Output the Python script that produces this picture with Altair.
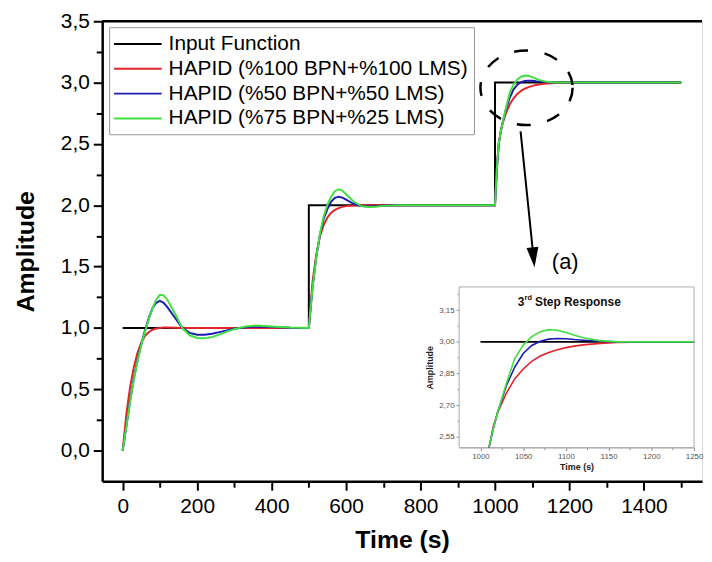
import altair as alt
import pandas as pd

# ---------------- data ----------------
series_names = ["Input Function", "HAPID (%100 BPN+%100 LMS)",
                "HAPID (%50 BPN+%50 LMS)", "HAPID (%75 BPN+%25 LMS)"]
series_colors = ["#000000", "#e3242b", "#1b1bb0", "#3fe03f"]
series_widths = [2.0, 2.0, 2.5, 3.0]

input_t = [0, 500, 500, 1000, 1000, 1250, 1500]
input_v = [1, 1, 2, 2, 3, 3, 3]

time = [0, 10, 20, 30, 40, 50, 60, 70, 80, 90, 100, 110, 120, 140, 160, 180, 200,
        220, 240, 260, 280, 300, 330, 360, 400, 450, 500,
        510, 520, 530, 540, 550, 560, 570, 580, 590, 600, 620, 640, 660, 680, 700,
        740, 800, 900, 1000,
        1005, 1010, 1015, 1020, 1030, 1040, 1050, 1060, 1070, 1080, 1090, 1100,
        1110, 1120, 1140, 1160, 1180, 1200, 1250, 1300, 1400, 1500]

red = [0, 0.3, 0.52, 0.68, 0.8, 0.88, 0.935, 0.965, 0.985, 0.995, 1.0, 1.003, 1.003,
       1.002, 1.0, 1.0, 1.0, 1.0, 1.0, 1.0, 1.0, 1.0, 1.0, 1.0, 1.0, 1.0, 1.0,
       1.38, 1.6, 1.75, 1.84, 1.9, 1.94, 1.962, 1.977, 1.987, 1.993, 1.998, 2.0, 2.0,
       2.0, 2.0, 2.0, 2.0, 2.0, 2.0,
       2.3, 2.5, 2.6, 2.665, 2.755, 2.825, 2.872, 2.908, 2.933, 2.95, 2.963, 2.973,
       2.98, 2.986, 2.993, 2.997, 2.999, 3.0, 3.0, 3.0, 3.0, 3.0]

blue = [0, 0.2, 0.41, 0.59, 0.74, 0.87, 0.98, 1.08, 1.16, 1.205, 1.22, 1.205, 1.17,
        1.085, 1.0, 0.96, 0.945, 0.945, 0.953, 0.966, 0.98, 0.993, 1.006, 1.012, 1.008,
        1.002, 1.0,
        1.33, 1.58, 1.76, 1.89, 1.97, 2.03, 2.06, 2.07, 2.062, 2.045, 2.012, 1.994, 1.99,
        1.993, 1.997, 2.0, 2.0, 2.0, 2.0,
        2.3, 2.5, 2.59, 2.665, 2.79, 2.88, 2.945, 2.983, 3.003, 3.013, 3.016, 3.015,
        3.011, 3.008, 3.003, 3.0, 3.0, 3.0, 3.0, 3.0, 3.0, 3.0]

green = [0, 0.2, 0.4, 0.58, 0.73, 0.86, 0.97, 1.07, 1.16, 1.23, 1.27, 1.265, 1.23,
         1.12, 1.0, 0.94, 0.918, 0.915, 0.925, 0.945, 0.97, 0.99, 1.012, 1.02, 1.012,
         1.003, 1.0,
         1.33, 1.58, 1.77, 1.91, 2.005, 2.07, 2.115, 2.13, 2.12, 2.09, 2.03, 1.995, 1.985,
         1.988, 1.995, 2.0, 2.0, 2.0, 2.0,
         2.3, 2.5, 2.59, 2.665, 2.8, 2.92, 2.985, 3.025, 3.048, 3.058, 3.055, 3.045,
         3.032, 3.02, 3.006, 3.0, 3.0, 3.0, 3.0, 3.0, 3.0, 3.0]

assert len(time) == len(red) == len(blue) == len(green)

rows = []
for i, (t, v) in enumerate(zip(input_t, input_v)):
    rows.append({"series": series_names[0], "t": t, "v": v, "idx": i})
for name, vals in zip(series_names[1:], [red, blue, green]):
    for i, (t, v) in enumerate(zip(time, vals)):
        rows.append({"series": name, "t": t, "v": v, "idx": i})
df = pd.DataFrame(rows)

# ---------------- layout constants ----------------
W, H = 605, 464
FONT = "Liberation Sans"

x_domain = [-55, 1556]
y_domain = [-0.25, 3.5]
inset_x_domain = [975, 1250]
inset_y_domain = [2.5, 3.26]
inset_x_range = [360, 597]
inset_y_range = [430, 268]

xs = alt.Scale(domain=x_domain, nice=False, zero=False)
ys = alt.Scale(domain=y_domain, nice=False, zero=False)
ixs = alt.Scale(domain=inset_x_domain, range=inset_x_range, nice=False, zero=False)
iys = alt.Scale(domain=inset_y_domain, range=inset_y_range, nice=False, zero=False)

x_axis = alt.Axis(
    values=list(range(0, 1600, 100)),
    labelExpr="datum.value % 200 == 0 ? format(datum.value, 'd') : ''",
    tickSize={"condition": {"test": "datum.value % 200 == 0", "value": 9}, "value": 6},
    tickColor="black", tickWidth=2, domainColor="black", domainWidth=2.5,
    labelFontSize=21, labelColor="black", labelPadding=5, labelFlush=False,
    titleFontSize=25, titleFontWeight="bold", titleColor="black", titlePadding=12,
    grid=False, orient="bottom",
)
y_axis = alt.Axis(
    values=[0, 0.25, 0.5, 0.75, 1.0, 1.25, 1.5, 1.75, 2.0, 2.25, 2.5, 2.75, 3.0, 3.25, 3.5],
    labelExpr="(abs(datum.value*2 - round(datum.value*2)) < 0.001) ? replace(format(datum.value, '.1f'), '.', ',') : ''",
    tickSize={"condition": {"test": "abs(datum.value*2 - round(datum.value*2)) < 0.001", "value": 9}, "value": 6},
    tickColor="black", tickWidth=2, domainColor="black", domainWidth=2.5,
    labelFontSize=21, labelColor="black", labelPadding=4, labelFlush=False,
    titleFontSize=25, titleFontWeight="bold", titleColor="black", titlePadding=22,
    grid=False, orient="left",
)
ix_axis = alt.Axis(
    values=list(range(1000, 1251, 25)),
    labelExpr="datum.value % 50 == 0 ? format(datum.value, 'd') : ''",
    tickSize={"condition": {"test": "datum.value % 50 == 0", "value": 3}, "value": 2},
    tickColor="#888", domainColor="#aaa", labelFontSize=8, labelColor="#555",
    labelPadding=2, labelFlush=False, titleFontSize=9, titleFontWeight="bold",
    titleColor="#222", titlePadding=2, grid=False, orient="bottom", offset=-(H - 430),
)
iy_axis = alt.Axis(
    values=[2.55, 2.625, 2.7, 2.775, 2.85, 2.925, 3.0, 3.075, 3.15, 3.225],
    labelExpr="(abs((datum.value-2.55)/0.15 - round((datum.value-2.55)/0.15)) < 0.01) ? replace(format(datum.value, '.2f'), '.', ',') : ''",
    tickSize={"condition": {"test": "abs((datum.value-2.55)/0.15 - round((datum.value-2.55)/0.15)) < 0.01", "value": 3}, "value": 2},
    tickColor="#888", domainColor="#aaa", labelFontSize=8, labelColor="#555",
    labelPadding=2, labelFlush=False, titleFontSize=9, titleFontWeight="bold",
    titleColor="#222", titlePadding=4, grid=False, orient="left", offset=-360,
)


def mx(field="t"):
    return alt.X(f"{field}:Q", scale=xs, axis=x_axis, title="Time (s)")


def my(field="v"):
    return alt.Y(f"{field}:Q", scale=ys, axis=y_axis, title="Amplitude")


def ix(field="t"):
    return alt.X(f"{field}:Q", scale=ixs, axis=ix_axis, title="Time (s)")


def iy(field="v"):
    return alt.Y(f"{field}:Q", scale=iys, axis=iy_axis, title="Amplitude")


legend = alt.Legend(
    orient="none", legendX=7, legendY=6, title=None,
    labelFontSize=21, labelFont=FONT, labelColor="black", labelLimit=500,
    symbolType="M -2.4 0 L 2.4 0", symbolSize=400, symbolStrokeWidth=2.5,
    symbolOffset=12, labelOffset=20, padding=6, rowPadding=4,
    strokeColor="#999", fillColor="white",
)

# ---------------- main plot ----------------
top_rule = alt.Chart(pd.DataFrame({"k": [0]})).mark_rule(
    color="black", strokeWidth=2.5
).encode(x=alt.value(0), x2=alt.value(W), y=alt.value(0))

main_lines = alt.Chart(df).mark_line(clip=True).encode(
    x=mx(), y=my(),
    color=alt.Color("series:N", scale=alt.Scale(domain=series_names, range=series_colors),
                    legend=legend, sort=series_names),
    strokeWidth=alt.StrokeWidth("series:N", scale=alt.Scale(domain=series_names, range=series_widths),
                                legend=None),
    order="idx:Q",
)

# annotations (in main data coordinates)
ellipse_df = pd.DataFrame({"t": [1084.7], "v": [2.958]})
ellipse_path = ("M 1 0 C 1 0.447 0.552 0.81 0 0.81 C -0.552 0.81 -1 0.447 -1 0 "
                "C -1 -0.447 -0.552 -0.81 0 -0.81 C 0.552 -0.81 1 -0.447 1 0 Z")
ellipse = alt.Chart(ellipse_df).mark_point(
    shape=ellipse_path, size=8649, filled=False, stroke="black", strokeWidth=2.5,
    strokeDash=[14, 17], opacity=1,
).encode(x=mx(), y=my())

arrow_df = pd.DataFrame({"t": [1068.7], "v": [2.603], "t2": [1101.5], "v2": [1.633]})
arrow = alt.Chart(arrow_df).mark_rule(color="black", strokeWidth=2).encode(
    x=mx(), y=my(), x2="t2:Q", y2="v2:Q")

head_df = pd.DataFrame({"t": [1103.3], "v": [1.576]})
head = alt.Chart(head_df).mark_point(
    shape="M -0.6 -1 L 0.6 -1 L 0 1 Z", size=400, filled=True, color="black",
    opacity=1, angle=354, strokeWidth=0,
).encode(x=mx(), y=my())

label_df = pd.DataFrame({"t": [1188.5], "v": [1.536], "txt": ["(a)"]})
label_a = alt.Chart(label_df).mark_text(
    font=FONT, fontSize=22, color="black", align="center", baseline="middle"
).encode(x=mx(), y=my(), text="txt:N")

main = alt.layer(top_rule, main_lines, ellipse, arrow, head, label_a)

# ---------------- inset ----------------
frame_df = pd.DataFrame({"t": [inset_x_domain[0]], "t2": [inset_x_domain[1]],
                         "v": [inset_y_domain[0]], "v2": [inset_y_domain[1]]})
frame = alt.Chart(frame_df).mark_rect(fill="white", stroke="#aaa", strokeWidth=1).encode(
    x=ix(), x2="t2:Q", y=iy(), y2="v2:Q")

inset_layers = [frame]
for name, col in zip(series_names, series_colors):
    inset_layers.append(
        alt.Chart(df).transform_filter(
            f"datum.series == '{name}' && datum.t >= 1000 && datum.t <= 1250 && datum.v >= 2.49"
        ).mark_line(color=col, strokeWidth=1.6).encode(x=ix(), y=iy(), order="idx:Q")
    )

title_df = pd.DataFrame({"t": [1043.5], "v": [3.19]})
t3 = alt.Chart(title_df).mark_text(font=FONT, fontSize=12, fontWeight="bold", color="#111",
                                   align="left", baseline="middle", text="3").encode(x=ix(), y=iy())
trd = alt.Chart(title_df).mark_text(font=FONT, fontSize=7.5, fontWeight="bold", color="#111",
                                    align="left", baseline="middle", text="rd", dx=7, dy=-4
                                    ).encode(x=ix(), y=iy())
tstep = alt.Chart(title_df).mark_text(font=FONT, fontSize=12, fontWeight="bold", color="#111",
                                      align="left", baseline="middle", text="Step Response",
                                      dx=17.5).encode(x=ix(), y=iy())
inset_layers += [t3, trd, tstep]
inset = alt.layer(*inset_layers)

chart = alt.layer(main, inset).resolve_scale(x="independent", y="independent").properties(
    width=W, height=H, padding={"left": 5, "top": 0, "right": 0, "bottom": 0},
    background="white",
).configure_view(stroke=None).configure(font=FONT)

chart.save("out.html", embed_options={"renderer": "svg", "actions": False})
